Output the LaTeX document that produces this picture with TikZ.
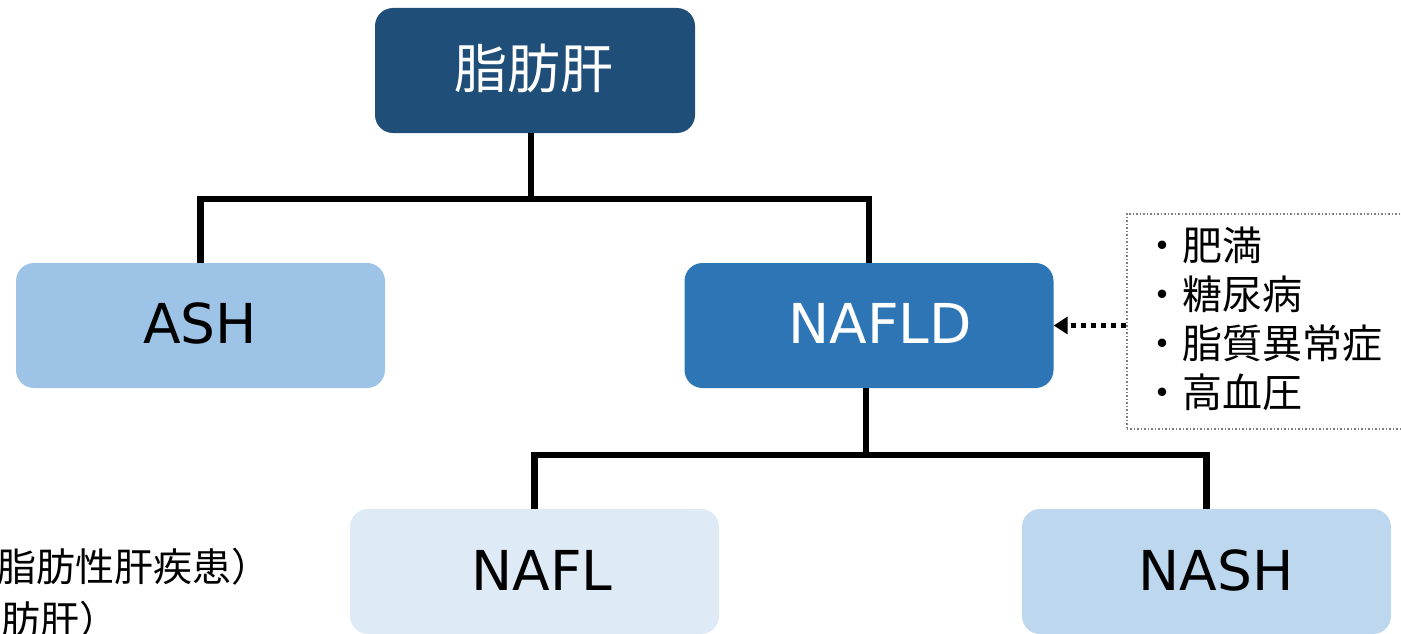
\documentclass[tikz,border=0pt]{standalone}
\usepackage{fontspec}
\setmainfont{DejaVu Sans}
\newfontfamily\cjk{Noto Sans CJK JP}
\usetikzlibrary{arrows.meta}
\definecolor{cDark}{HTML}{1F4E79}
\definecolor{cMid}{HTML}{2E75B6}
\definecolor{cAsh}{HTML}{9DC3E6}
\definecolor{cNafl}{HTML}{DEEBF7}
\definecolor{cNash}{HTML}{BDD7EE}
\tikzset{
  box/.style={rounded corners=18pt, minimum width=369pt, minimum height=125pt, inner sep=0pt, draw=none},
  lbl/.style={inner sep=0pt, font=\fontsize{55}{60}\selectfont},
  conn/.style={line width=6.5pt, black},
  riskline/.style={inner sep=0pt, anchor=west, font=\cjk\fontsize{40}{48}\selectfont},
  foot/.style={inner sep=0pt, anchor=west, font=\cjk\fontsize{39}{44}\selectfont},
}
\begin{document}
\begin{tikzpicture}[x=1pt,y=-1pt]
\useasboundingbox (0,0) rectangle (1401,634);
\clip (0,0) rectangle (1401,634);
% boxes
\node[box, fill=cDark, minimum width=320pt] (fat) at (535,70.5) {};
\node[inner sep=0pt, text=white, font=\cjk\fontsize{53}{58}\selectfont] (fatl) at (534,68) {脂肪肝};
\node[box, fill=cAsh] (ash) at (200.5,325.5) {};
\node[lbl, text=black] (ashl) at (200,323) {ASH};
\node[box, fill=cMid] (nafld) at (869,325.5) {};
\node[lbl, text=white] (nafldl) at (880,323) {NAFLD};
\node[box, fill=cNafl] (nafl) at (534.5,571.5) {};
\node[lbl, text=black] (nafll) at (542,570) {NAFL};
\node[box, fill=cNash] (nash) at (1206.5,571.5) {};
\node[lbl, text=black] (nashl) at (1216,570) {NASH};
% connectors
\coordinate (j1) at (531,199);
\coordinate (j2) at (866,455);
\draw[conn] (fat.south -| j1) -- (j1);
\draw[conn] (ash.north) |- (j1) -| (nafld.north);
\draw[conn] (nafld.south -| j2) -- (j2);
\draw[conn] (nafl.north) |- (j2) -| (nash.north);
% risk factor box
\node[draw=gray, dotted, line width=1.5pt, minimum width=290pt, minimum height=215pt, inner sep=0pt, anchor=north west] (risk) at (1126,213) {};
\node[riskline] (r1) at (1142,245) {・肥満};
\node[riskline] (r2) at (1142,294) {・糖尿病};
\node[riskline] (r3) at (1142,343) {・脂質異常症};
\node[riskline] (r4) at (1142,392) {・高血圧};
\draw[line width=5pt, dash pattern=on 5pt off 5pt, -{Triangle[length=14pt,width=17pt]}] (risk.west |- nafld.east) -- (nafld.east);
% footnote text (cut by left edge)
\node[foot] (f1) at (-3,567) {脂肪性肝疾患）};
\node[foot] (f2) at (-38,620) {脂肪肝）};
\end{tikzpicture}
\end{document}
